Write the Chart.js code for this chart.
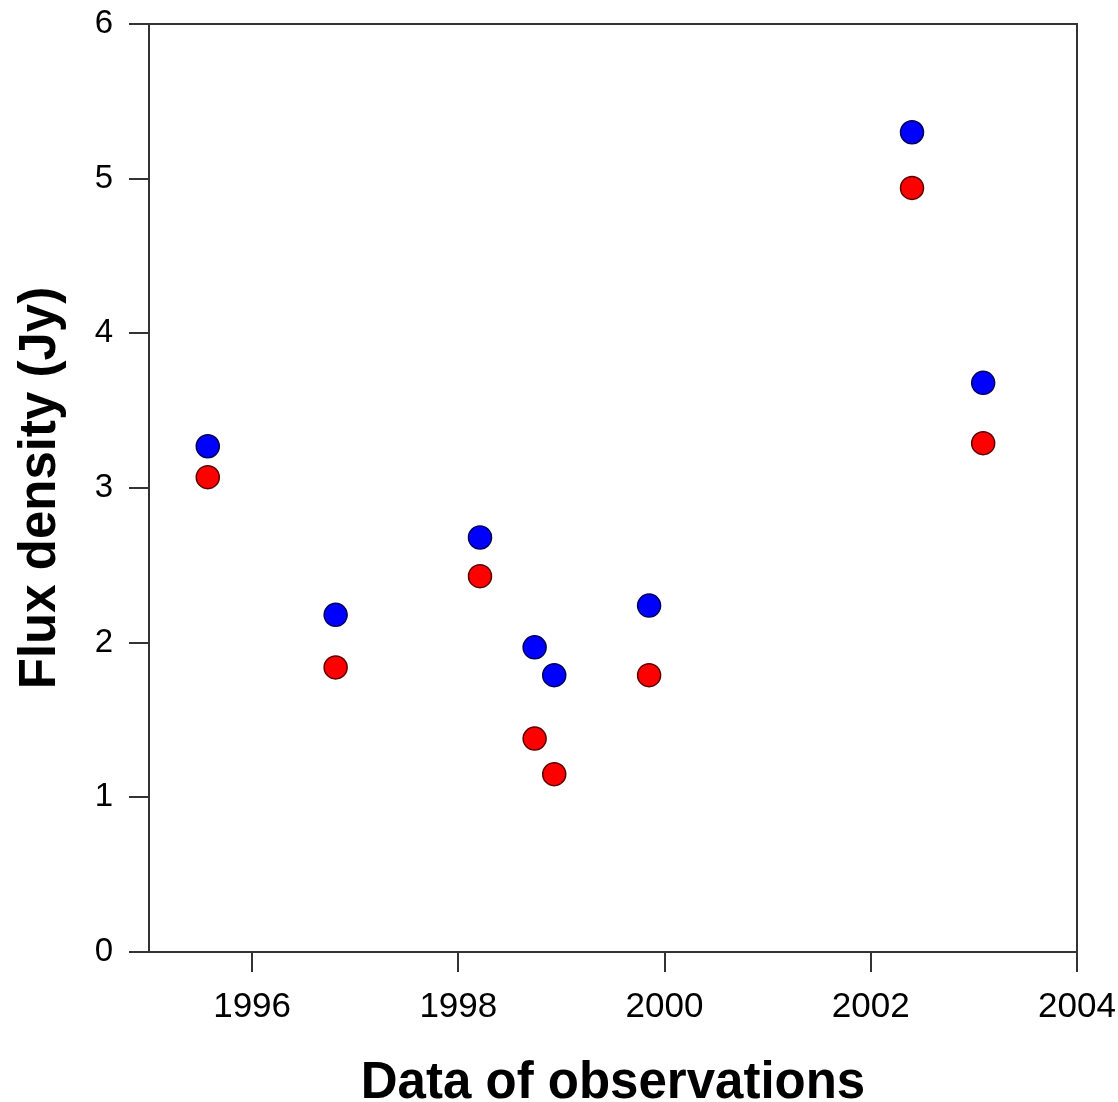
<!DOCTYPE html>
<html>
<head>
<meta charset="utf-8">
<style>
  html, body { margin: 0; padding: 0; background: #fff; }
  #wrap { width: 1118px; height: 1102px; }
</style>
<script src="https://cdn.jsdelivr.net/npm/chart.js@4/dist/chart.umd.min.js"></script>
</head>
<body>
<div id="wrap"><canvas id="c" width="1118" height="1102"></canvas></div>
<script>
// Observation epochs (decimal years)
const epochs = [1995.57, 1996.81, 1998.21, 1998.74, 1998.93, 1999.85, 2002.40, 2003.09];
// Flux densities (Jy) for the two series
const fluxBlue = [3.27, 2.18, 2.68, 1.97, 1.79, 2.24, 5.30, 3.68];
const fluxRed  = [3.07, 1.84, 2.43, 1.38, 1.15, 1.79, 4.94, 3.29];
const xTicks = [1996, 1998, 2000, 2002, 2004];
const yTicks = [0, 1, 2, 3, 4, 5, 6];

const toPoints = (xs, ys) => xs.map((x, i) => ({ x: x, y: ys[i] }));

// Draws the top and right edges of the plot frame
const frame = {
  id: 'frame',
  afterDraw(chart) {
    const { ctx, chartArea: a } = chart;
    ctx.save();
    ctx.strokeStyle = '#333';
    ctx.lineWidth = 2;
    ctx.beginPath();
    ctx.moveTo(a.left, a.top);
    ctx.lineTo(a.right, a.top);
    ctx.lineTo(a.right, a.bottom);
    ctx.stroke();
    ctx.restore();
  }
};

// Let the layout padding alone decide the plot-area margins
function clearLabelOverflow(scale) {
  scale.paddingTop = 0;
  scale.paddingBottom = 0;
  scale.paddingLeft = 0;
  scale.paddingRight = 0;
}

const font = 'Liberation Sans, Arial, sans-serif';

new Chart(document.getElementById('c'), {
  type: 'scatter',
  data: {
    datasets: [
      {
        label: 'red',
        data: toPoints(epochs, fluxRed),
        backgroundColor: '#ff0000',
        borderColor: '#5a0000',
        borderWidth: 1.5,
        pointRadius: 11.5,
        pointHoverRadius: 11.5
      },
      {
        label: 'blue',
        data: toPoints(epochs, fluxBlue),
        backgroundColor: '#0000ff',
        borderColor: '#00005a',
        borderWidth: 1.5,
        pointRadius: 11.5,
        pointHoverRadius: 11.5
      }
    ]
  },
  options: {
    responsive: false,
    animation: false,
    layout: { padding: { top: 24, right: 41, left: 0, bottom: 0 } },
    plugins: { legend: { display: false }, tooltip: { enabled: false } },
    scales: {
      x: {
        type: 'linear',
        min: 1995,
        max: 2004,
        afterBuildTicks(scale) { scale.ticks = xTicks.map(v => ({ value: v })); },
        afterFit(scale) { scale.height = 150; clearLabelOverflow(scale); },
        ticks: {
          color: '#000',
          font: { family: font, size: 35 },
          padding: 14,
          callback: v => String(v)
        },
        grid: { drawOnChartArea: false, drawTicks: true, tickLength: 20, color: '#333', lineWidth: 2 },
        border: { display: true, color: '#333', width: 2 },
        title: {
          display: true,
          text: 'Data of observations',
          color: '#000',
          font: { family: font, size: 51, weight: 'bold', lineHeight: 0.72 },
          padding: { top: 0, bottom: 0 }
        }
      },
      y: {
        type: 'linear',
        min: 0,
        max: 6,
        afterBuildTicks(scale) { scale.ticks = yTicks.map(v => ({ value: v })); },
        afterFit(scale) { scale.width = 149; clearLabelOverflow(scale); },
        ticks: {
          color: '#000',
          font: { family: font, size: 33 },
          padding: 16,
          callback: v => String(v)
        },
        grid: { drawOnChartArea: false, drawTicks: true, tickLength: 20, color: '#333', lineWidth: 2 },
        border: { display: true, color: '#333', width: 2 },
        title: {
          display: true,
          text: 'Flux density (Jy)',
          color: '#000',
          font: { family: font, size: 51, weight: 'bold' },
          padding: { top: 10, bottom: 0 }
        }
      }
    }
  },
  plugins: [frame]
});
</script>
</body>
</html>
